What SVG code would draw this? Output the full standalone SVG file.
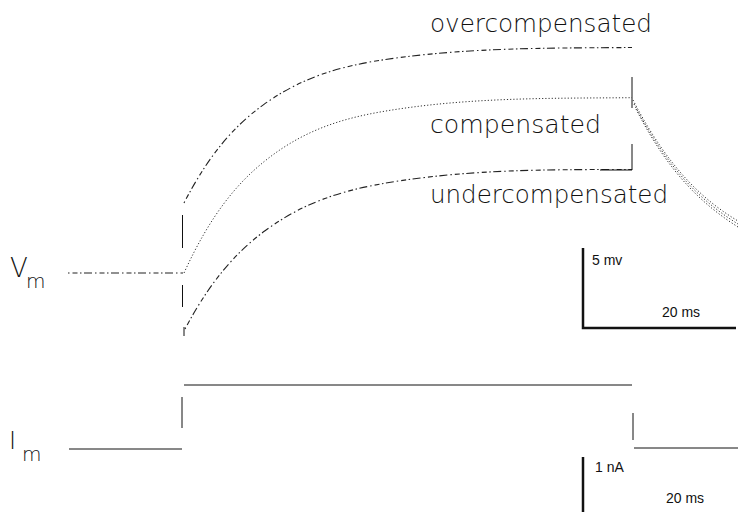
<svg xmlns="http://www.w3.org/2000/svg" width="738" height="512" viewBox="0 0 738 512">
<style>
.lbl{font-family:"DejaVu Sans",sans-serif;font-weight:200;font-size:24px;fill:#111}
.ax{font-family:"DejaVu Sans",sans-serif;font-weight:200;fill:#111}
.sc{font-family:"Liberation Sans",Arial,sans-serif;font-size:14px;fill:#111}
.tr{fill:none;stroke:#111;stroke-width:1}
.dd{fill:none;stroke:#222;stroke-width:1.1;stroke-dasharray:1.5 3 5 2.5 1.5 2.5 8 3}
.dot{fill:none;stroke:#333;stroke-width:1;stroke-dasharray:1.2 2}
.bar{fill:none;stroke:#111;stroke-width:2.5}
</style>
<rect width="738" height="512" fill="#fff"/>
<g id="labels">
<text class="lbl" x="430" y="32" textLength="222" lengthAdjust="spacingAndGlyphs">overcompensated</text>
<text class="lbl" x="430" y="133" textLength="171" lengthAdjust="spacingAndGlyphs">compensated</text>
<text class="lbl" x="430" y="203" textLength="238" lengthAdjust="spacingAndGlyphs">undercompensated</text>
<text class="ax" x="10" y="277" font-size="26">V</text>
<text class="ax" x="26" y="288" font-size="20">m</text>
<text class="ax" x="9" y="449" font-size="24">I</text>
<text class="ax" x="22" y="461" font-size="20">m</text>
</g>
<g id="voltage-traces">
<path class="dd" d="M68 273 H183"/>
<path class="dd" d="M184 203 C210.7 151 237.3 123.5 264 104.4 C309.3 71.9 354.7 63.4 400 57.5 C477.3 47.4 554.7 48.1 632 47.5"/>
<path class="dot" d="M184 273 C210.7 214.3 237.3 183.3 264 161.7 C309.3 125 354.7 115.5 400 108.8 C477.3 97.4 554.7 98.3 632 97.7"/>
<path class="dd" d="M185 329 C211.7 278.5 238.3 250.5 265 230.8 C310 197.5 355 187.6 400 180.8 C477.3 169.1 554.7 169.6 632 169.5"/>
<path class="tr" d="M182.5 215 V248 M182.5 285 V307 M184 327 V336"/>
<path class="tr" d="M632 77 V108 M632 144 V170 H600"/>
<path class="dot" d="M633 100 C668 168 703 200 738 221"/>
<path class="dot" d="M634 104 C669 172 704 203 738 224"/>
<path class="dot" d="M636 109 C670 176 705 206 738 227"/>
</g>
<g id="current-trace">
<path class="tr" d="M69 449 H182 M182 397 V428 M184 385 H632 M633 413 V440 M634 448 H738"/>
</g>
<g id="scale-bars">
<path class="bar" d="M583 248 V328 H736"/>
<path class="bar" d="M583 457 V512"/>
<text class="sc" x="592" y="265" font-size="13">5 mv</text>
<text class="sc" x="662" y="317">20 ms</text>
<text class="sc" x="595" y="472" font-size="13">1 nA</text>
<text class="sc" x="666" y="503">20 ms</text>
</g>
</svg>
